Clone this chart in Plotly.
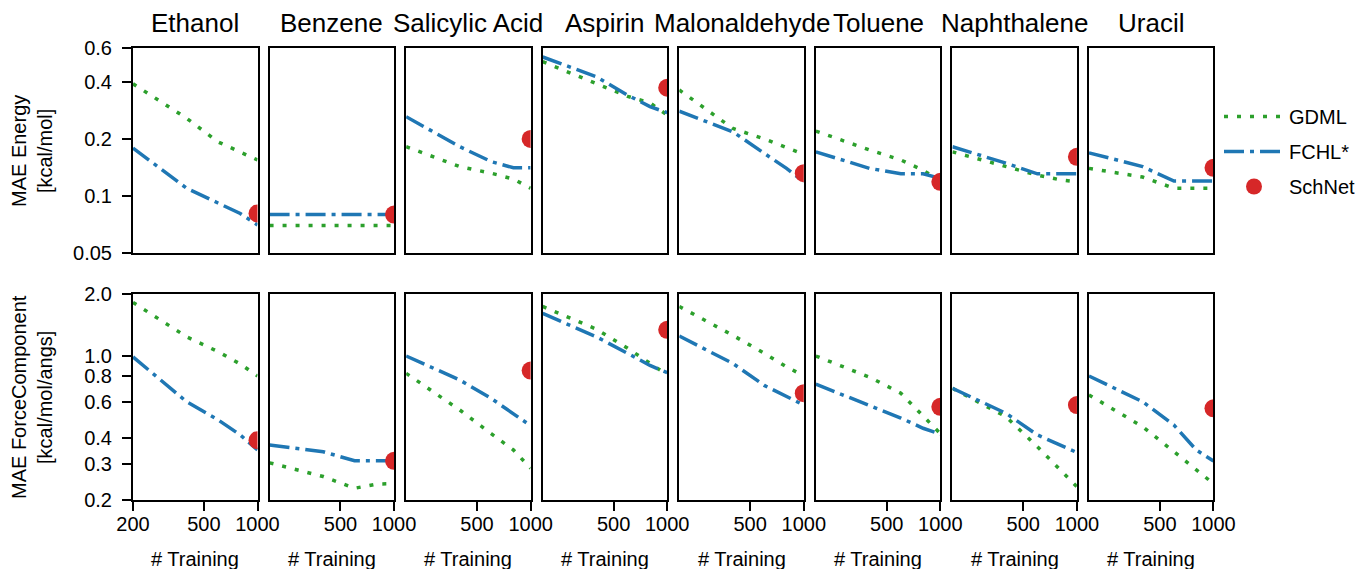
import numpy as np
import plotly.graph_objects as go
from plotly.subplots import make_subplots

# training set sizes
x_train = [200, 400, 600, 800, 1000]

molecules = ["Ethanol", "Benzene", "Salicylic Acid", "Aspirin",
             "Malonaldehyde", "Toluene", "Naphthalene", "Uracil"]

# MAE energy [kcal/mol], one row per molecule
gdml_energy = [
    [0.390, 0.257, 0.193, 0.171, 0.155],
    [0.070, 0.070, 0.070, 0.070, 0.070],
    [0.182, 0.143, 0.132, 0.123, 0.110],
    [0.510, 0.390, 0.335, 0.310, 0.267],
    [0.362, 0.227, 0.200, 0.179, 0.166],
    [0.220, 0.175, 0.155, 0.137, 0.120],
    [0.171, 0.143, 0.129, 0.122, 0.119],
    [0.140, 0.126, 0.110, 0.110, 0.110],
]
fchl_energy = [
    [0.179, 0.110, 0.092, 0.081, 0.0705],
    [0.080, 0.080, 0.080, 0.080, 0.080],
    [0.262, 0.182, 0.152, 0.141, 0.141],
    [0.540, 0.425, 0.340, 0.296, 0.275],
    [0.280, 0.218, 0.168, 0.140, 0.119],
    [0.171, 0.140, 0.131, 0.131, 0.124],
    [0.182, 0.149, 0.131, 0.131, 0.131],
    [0.169, 0.143, 0.120, 0.120, 0.120],
]
schnet_energy = [0.081, 0.080, 0.200, 0.372, 0.132, 0.119, 0.161, 0.141]

# MAE force component [kcal/mol/angs]
gdml_force = [
    [1.82, 1.24, 1.05, 0.915, 0.80],
    [0.303, 0.260, 0.228, 0.239, 0.240],
    [0.824, 0.547, 0.420, 0.350, 0.285],
    [1.74, 1.35, 1.09, 0.92, 0.81],
    [1.74, 1.26, 1.03, 0.887, 0.80],
    [1.00, 0.79, 0.66, 0.51, 0.42],
    [0.697, 0.507, 0.363, 0.280, 0.232],
    [0.647, 0.454, 0.343, 0.280, 0.240],
]
fchl_force = [
    [0.99, 0.60, 0.49, 0.414, 0.35],
    [0.370, 0.343, 0.310, 0.310, 0.310],
    [1.00, 0.765, 0.623, 0.527, 0.459],
    [1.61, 1.24, 1.03, 0.90, 0.83],
    [1.25, 0.92, 0.72, 0.635, 0.578],
    [0.73, 0.578, 0.50, 0.446, 0.418],
    [0.697, 0.527, 0.414, 0.370, 0.340],
    [0.80, 0.60, 0.462, 0.350, 0.309],
]
schnet_force = [0.39, 0.31, 0.85, 1.34, 0.66, 0.567, 0.578, 0.557]

energy_ticks = [0.05, 0.1, 0.2, 0.4, 0.6]
force_ticks = [0.2, 0.3, 0.4, 0.6, 0.8, 1.0, 2.0]

# the page body has an 8px margin, so the figure is drawn 8px in from the corner
OFF = 8
W, H = 1366 - OFF, 569 - OFF
FONT = "Arial, Liberation Sans, sans-serif"
GREEN, BLUE, RED = "#2ca02c", "#1f77b4", "#d62728"


def px_x(s):
    return (s - OFF) / W


def px_y(s):
    return 1 - (s - OFF) / H


# panel geometry in screen pixels
lefts = [133 + i * 136.57 for i in range(8)]
pw = 124.5
rows_px = [(48.3, 253.3), (294, 500)]

fig = make_subplots(rows=2, cols=8)

for r in range(2):
    gd = gdml_energy if r == 0 else gdml_force
    fc = fchl_energy if r == 0 else fchl_force
    sn = schnet_energy if r == 0 else schnet_force
    for c in range(8):
        first = (r == 0 and c == 0)
        fig.add_trace(go.Scatter(
            x=x_train, y=gd[c], mode="lines", name="GDML",
            line=dict(color=GREEN, width=3.5, dash="4px,9px"),
            showlegend=first, legendgroup="gdml"), row=r + 1, col=c + 1)
        fig.add_trace(go.Scatter(
            x=x_train, y=fc[c], mode="lines", name="FCHL*",
            line=dict(color=BLUE, width=3.5, dash="20px,6px,4px,6px"),
            showlegend=first, legendgroup="fchl"), row=r + 1, col=c + 1)
        fig.add_trace(go.Scatter(
            x=[x_train[-1]], y=[sn[c]], mode="markers", name="SchNet",
            marker=dict(color=RED, size=18), cliponaxis=True,
            showlegend=first, legendgroup="schnet"), row=r + 1, col=c + 1)

        top, bot = rows_px[r]
        fig.update_xaxes(
            domain=[px_x(lefts[c]), px_x(lefts[c] + pw)],
            type="log", range=[np.log10(200), np.log10(1000)],
            showgrid=False, zeroline=False, automargin=False,
            showline=True, mirror=True, linewidth=2, linecolor="black",
            ticks="outside" if r == 1 else "", ticklen=9, tickwidth=2,
            tickcolor="black", ticklabelstandoff=-4,
            tickvals=([200, 500, 1000] if c == 0 else [500, 1000]) if r == 1 else [],
            ticktext=(["200", "500", "1000"] if c == 0 else ["500", "1000"]) if r == 1 else [],
            showticklabels=(r == 1),
            tickfont=dict(size=20, color="black", family=FONT),
            row=r + 1, col=c + 1)
        yt = energy_ticks if r == 0 else force_ticks
        yr = [np.log10(0.05), np.log10(0.6)] if r == 0 else [np.log10(0.2), np.log10(2.0)]
        fig.update_yaxes(
            domain=[px_y(bot), px_y(top)],
            type="log", range=yr,
            showgrid=False, zeroline=False, automargin=False,
            showline=True, mirror=True, linewidth=2, linecolor="black",
            ticks="outside" if c == 0 else "", ticklen=9, tickwidth=2,
            tickcolor="black", ticklabelstandoff=6,
            tickvals=yt if c == 0 else [],
            ticktext=([f"{v:g}" for v in yt] if r == 0 else [f"{v:.1f}" for v in yt]) if c == 0 else [],
            showticklabels=(c == 0),
            tickfont=dict(size=20, color="black", family=FONT),
            row=r + 1, col=c + 1)

annotations = []
for c, name in enumerate(molecules):
    cx = px_x(lefts[c] + pw / 2)
    annotations.append(dict(
        text=name, x=cx, y=px_y(23), xref="paper", yref="paper",
        xanchor="center", yanchor="middle", showarrow=False,
        font=dict(size=26, color="black", family=FONT)))
    annotations.append(dict(
        text="# Training", x=cx, y=px_y(546), xref="paper", yref="paper",
        xanchor="center", yanchor="top", showarrow=False,
        font=dict(size=20, color="black", family=FONT)))

annotations.append(dict(
    text="MAE Energy<br>[kcal/mol]", x=px_x(32), y=px_y(151),
    xref="paper", yref="paper", xanchor="center", yanchor="middle",
    textangle=-90, showarrow=False,
    font=dict(size=20, color="black", family=FONT)))
annotations.append(dict(
    text="MAE ForceComponent<br>[kcal/mol/angs]", x=px_x(32), y=px_y(397),
    xref="paper", yref="paper", xanchor="center", yanchor="middle",
    textangle=-90, showarrow=False,
    font=dict(size=20, color="black", family=FONT)))

fig.update_layout(
    width=W, height=H,
    margin=dict(l=0, r=0, t=0, b=0, autoexpand=False),
    plot_bgcolor="white", paper_bgcolor="white",
    font=dict(family=FONT, size=20, color="black"),
    annotations=annotations,
    legend=dict(x=px_x(1219), y=px_y(97), xanchor="left", yanchor="top",
                font=dict(size=20, color="black", family=FONT),
                bgcolor="rgba(0,0,0,0)", itemwidth=60,
                traceorder="grouped", tracegroupgap=6),
)

fig.write_html("out.html")
